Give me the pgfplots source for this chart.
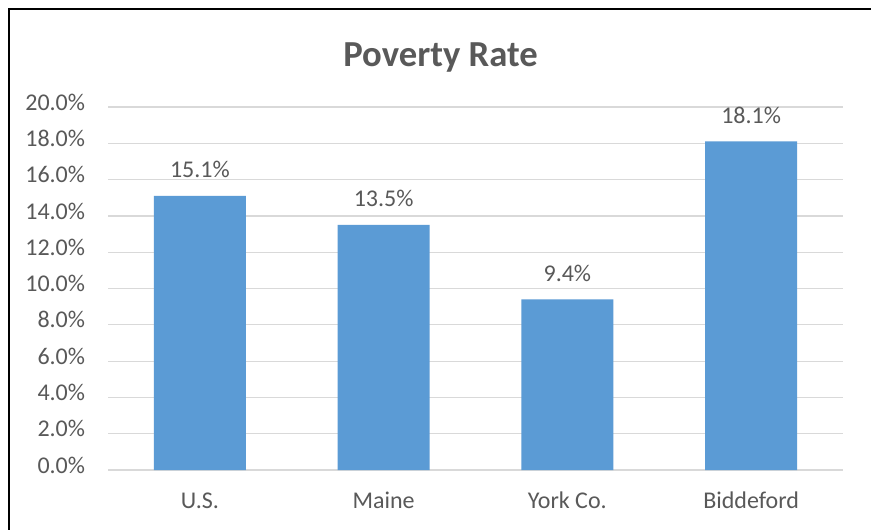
\documentclass[border=0pt]{standalone}
\usepackage{pgfplots}
\pgfplotsset{compat=1.18}
\usepackage{fontspec}
\setmainfont{Carlito}
\definecolor{barblue}{HTML}{5B9BD5}
\definecolor{txt}{HTML}{595959}
\definecolor{gridc}{HTML}{D9D9D9}
\begin{document}
\begin{tikzpicture}
\useasboundingbox (0,0) rectangle (653.25pt,396.75pt);
\fill[white] (0,0) rectangle (653.25pt,396.75pt);
\draw[line width=2pt,line cap=rect] (6.8pt,0) -- (6.8pt,390pt) -- (653.25pt,390pt);
\node[anchor=base,font=\fontsize{27.5}{33}\selectfont\bfseries,text=txt,inner sep=0] at (330.4pt,347pt) {Poverty Rate};
\begin{axis}[
  at={(81pt,44.25pt)}, anchor=south west,
  scale only axis, width=551.25pt, height=272.25pt,
  xmin=-0.5, xmax=3.5, ymin=0, ymax=20,
  /pgf/number format/assume math mode=true,
  axis line style={draw=none},
  major tick length=0pt,
  xtick={0,1,2,3},
  xticklabels={U.S.,Maine,York Co.,Biddeford},
  ytick={0,2,...,20},
  yticklabel={\pgfmathprintnumber[fixed,fixed zerofill,precision=1,assume math mode=true]{\tick}\%},
  ymajorgrids, grid style={gridc,line width=0.9pt},
  ticklabel style={font=\fontsize{18}{21}\selectfont,text=txt,inner sep=0},
  yticklabel style={anchor=mid east,xshift=-17pt},
  xticklabel style={anchor=base,yshift=-29pt},
  ybar, bar width=69pt,
  nodes near coords={\pgfmathprintnumber[fixed,fixed zerofill,precision=1,assume math mode=true]{\pgfplotspointmeta}\%},
  every node near coord/.append style={font=\fontsize{18}{21}\selectfont,text=txt,anchor=base,yshift=13.5pt,inner sep=0},
  clip=false,
]
\addplot[fill=barblue,draw=none] coordinates {(0,15.1) (1,13.5) (2,9.4) (3,18.1)};
\end{axis}
\end{tikzpicture}
\end{document}
